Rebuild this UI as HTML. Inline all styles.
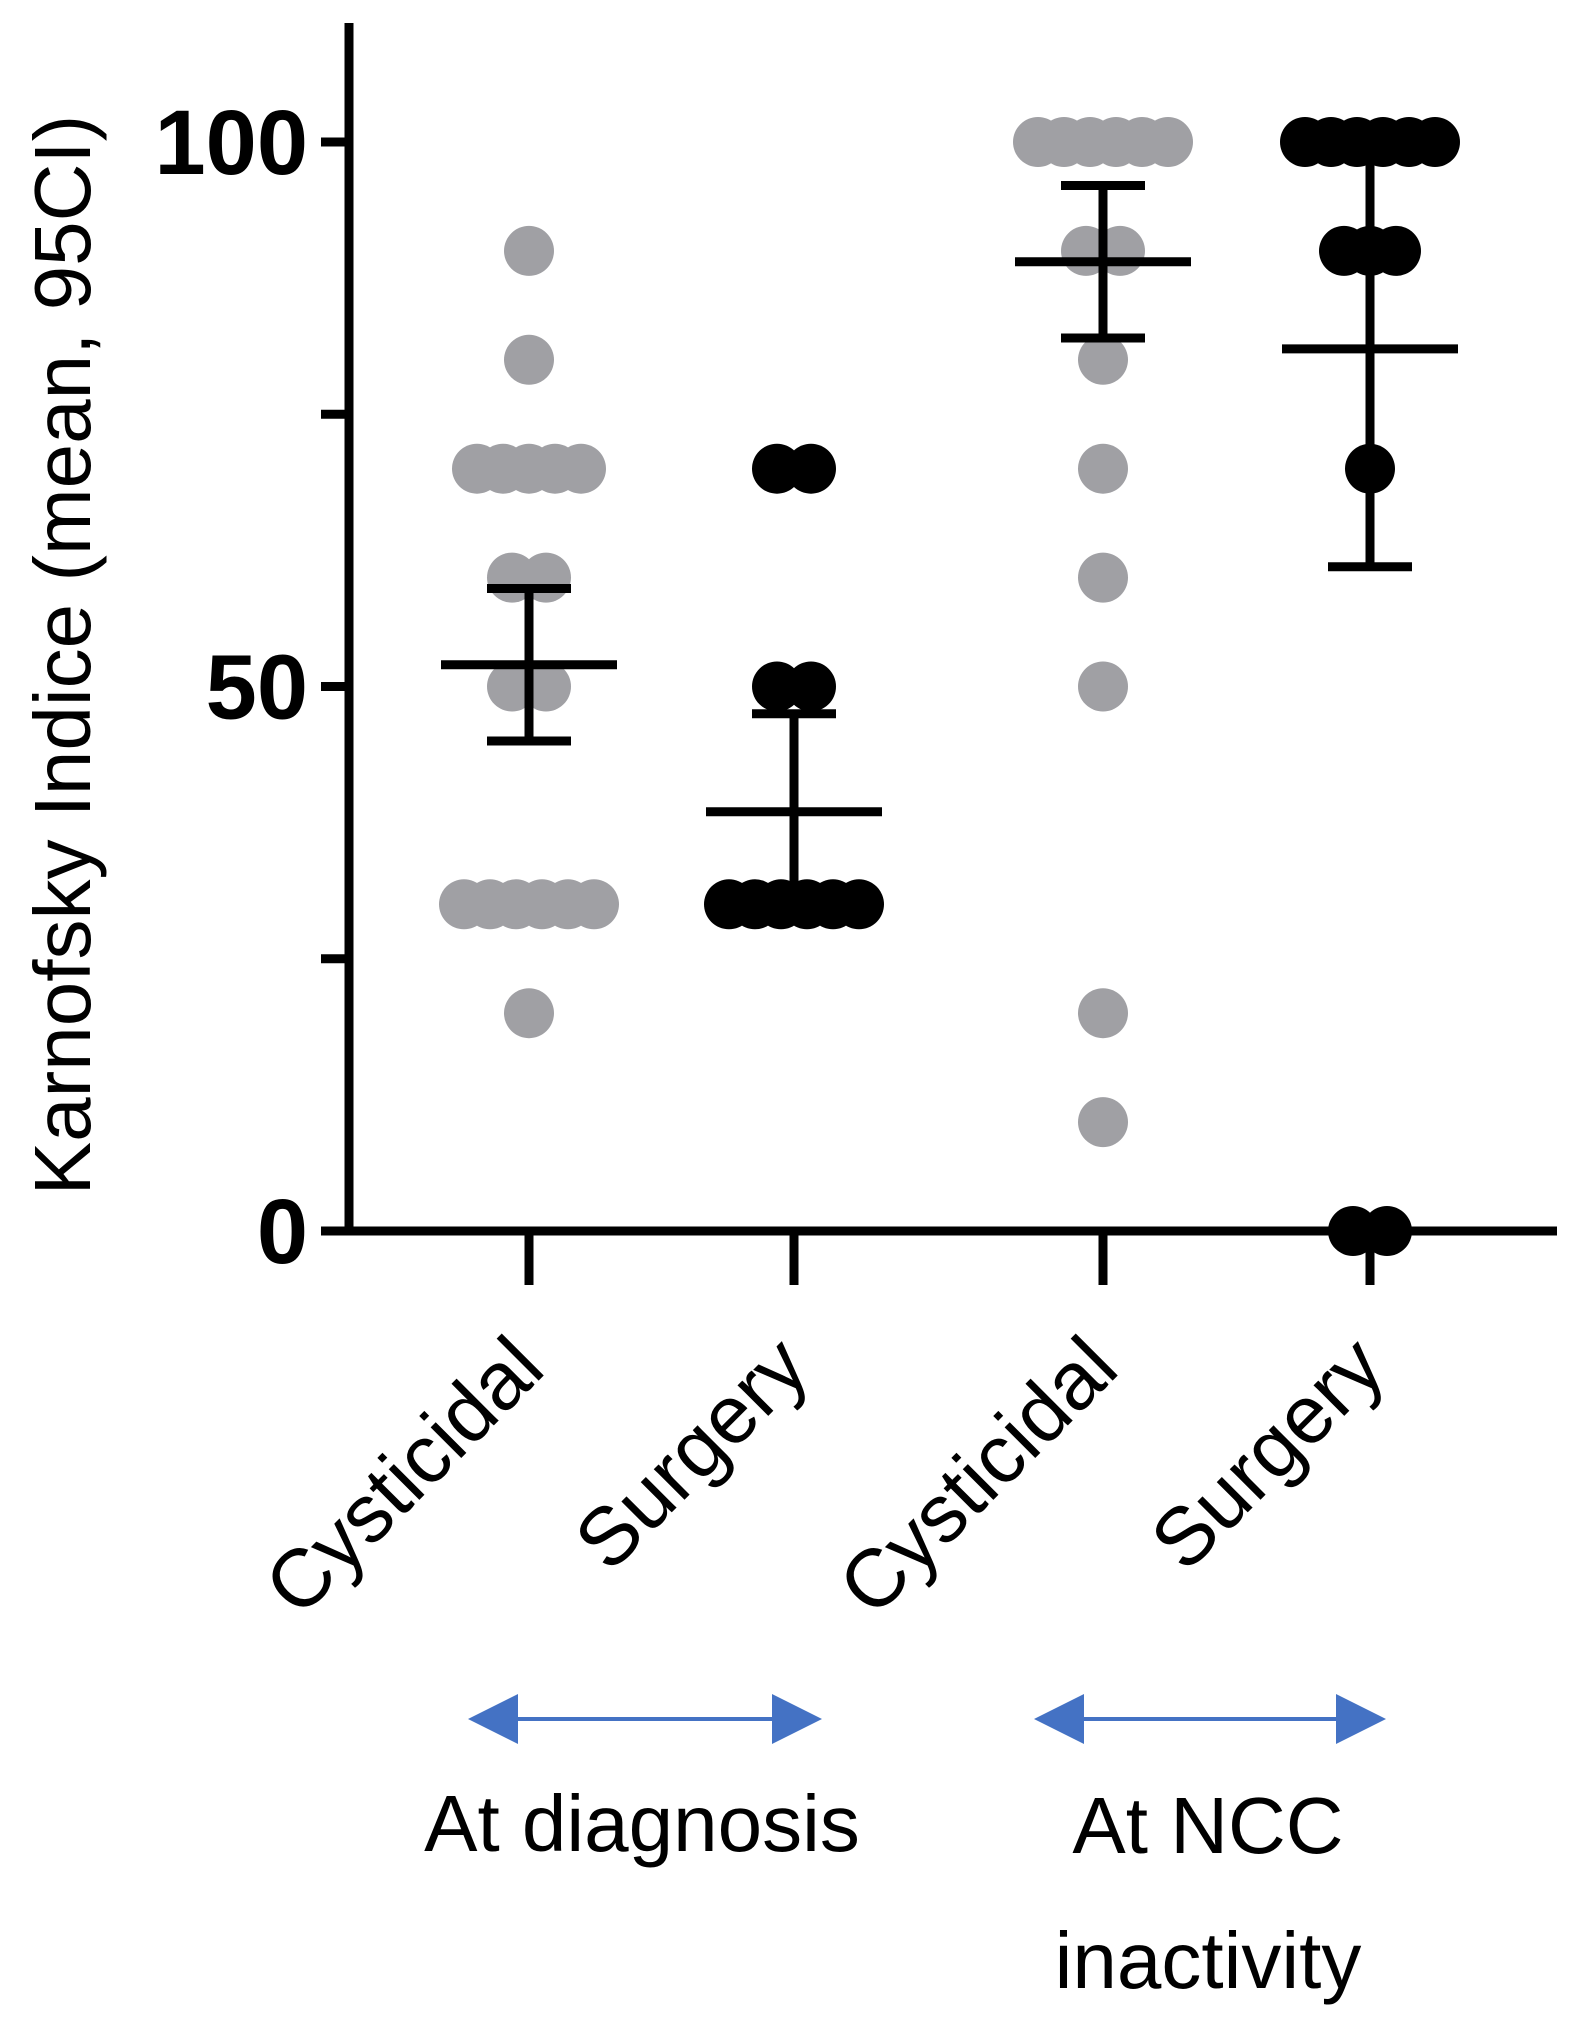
<!DOCTYPE html>
<html><head><meta charset="utf-8"><style>
html,body{margin:0;padding:0;background:#fff;}
svg{display:block;font-family:"Liberation Sans",sans-serif;}
</style></head><body>
<svg id="chart" width="1577" height="2025" viewBox="0 0 1577 2025" xmlns="http://www.w3.org/2000/svg"></svg>
<script>
const categories = ["Cysticidal", "Surgery", "Cysticidal", "Surgery"];
const groupValues = [
  [90, 80, 70, 70, 70, 70, 70, 60, 60, 50, 50, 30, 30, 30, 30, 30, 30, 20],
  [70, 70, 50, 50, 30, 30, 30, 30, 30, 30],
  [100, 100, 100, 100, 100, 100, 90, 90, 80, 70, 60, 50, 20, 10],
  [100, 100, 100, 100, 100, 100, 90, 90, 90, 70, 0, 0]
];
const groupColors = ["#a0a0a4", "#000000", "#a0a0a4", "#000000"];
const means = [52, 38.5, 89, 81];
const ciLow = [45, 30, 82, 61];
const ciHigh = [59, 47.5, 96, 100];
const yTicks = [0, 50, 100];
const yMinorTicks = [25, 75];

const NS = "http://www.w3.org/2000/svg";
const svg = document.getElementById("chart");
const X0 = 349, Y0 = 1231, Y100 = 142;
function yScale(v){ return Y0 + (Y100 - Y0) * v / 100; }
function xScale(i){ return [529, 794, 1103, 1370][i]; }
function mk(tag, attrs, parent){
  const e = document.createElementNS(NS, tag);
  for (const k in attrs) e.setAttribute(k, attrs[k]);
  (parent || svg).appendChild(e);
  return e;
}

groupValues.forEach((vals, gi) => {
  const g = mk("g", {});
  
  
  const counts = {};
  vals.forEach(v => counts[v] = (counts[v] || 0) + 1);
  const seen = {};
  vals.forEach(v => {
    const n = counts[v];
    const k = seen[v] = (seen[v] || 0) + 1;
    const sp = n === 2 ? 34 : 26;
    const off = (k - 1 - (n - 1) / 2) * sp;
    const c = mk("circle", {cx: xScale(gi) + off, cy: yScale(v), r: 25, fill: groupColors[gi]}, g);
    
    
  });
});

means.forEach((m, gi) => {
  const g = mk("g", {stroke: "#000", "stroke-width": 9, fill: "none"});
  
  
  const x = xScale(gi);
  mk("line", {x1: x, x2: x, y1: yScale(ciLow[gi]), y2: yScale(ciHigh[gi])}, g);
  mk("line", {x1: x - 42, x2: x + 42, y1: yScale(ciLow[gi]), y2: yScale(ciLow[gi])}, g);
  mk("line", {x1: x - 42, x2: x + 42, y1: yScale(ciHigh[gi]), y2: yScale(ciHigh[gi])}, g);
  const ml = mk("line", {x1: x - 88, x2: x + 88, y1: yScale(m), y2: yScale(m)}, g);
  
  
});

const ax = mk("g", {stroke: "#000", "stroke-width": 9});


mk("line", {x1: X0, x2: X0, y1: 23, y2: Y0 + 4.5}, ax);
mk("line", {x1: X0 - 4.5, x2: 1557, y1: Y0, y2: Y0}, ax);
yTicks.concat(yMinorTicks).forEach(v => {
  mk("line", {x1: X0 - 28, x2: X0, y1: yScale(v), y2: yScale(v)}, ax);
});
categories.forEach((c, i) => {
  mk("line", {x1: xScale(i), x2: xScale(i), y1: Y0, y2: Y0 + 54}, ax);
});
yTicks.forEach(v => {
  const t = mk("text", {x: 308, y: yScale(v) + 32, "text-anchor": "end", "font-size": 92, "font-weight": "bold"});
  t.textContent = v;
  
  
});
categories.forEach((c, i) => {
  const x = xScale(i) - 22, y = Y0 + 100;
  const t = mk("text", {x: x, y: y, "text-anchor": "end", "font-size": 82, transform: `rotate(-45 ${x} ${y})`, dy: "0.7em"});
  t.textContent = c;
  
  
});
const yt = mk("text", {x: 0, y: 0, "text-anchor": "middle", "font-size": 80, transform: "translate(90 655) rotate(-90)"});
yt.textContent = "Karnofsky Indice (mean, 95CI)";



[[468, 822], [1034, 1386]].forEach((a, i) => {
  const g = mk("g", {fill: "#4472c4", stroke: "#4472c4"});
  
  
  const y = 1719;
  mk("line", {x1: a[0] + 40, x2: a[1] - 40, y1: y, y2: y, "stroke-width": 4}, g);
  mk("polygon", {points: `${a[0]},${y} ${a[0] + 50},${y - 25} ${a[0] + 50},${y + 25}`, stroke: "none"}, g);
  mk("polygon", {points: `${a[1]},${y} ${a[1] - 50},${y - 25} ${a[1] - 50},${y + 25}`, stroke: "none"}, g);
});
[["At diagnosis", 642, 1851], ["At NCC", 1208, 1853], ["inactivity", 1208, 1988]].forEach(d => {
  const t = mk("text", {x: d[1], y: d[2], "text-anchor": "middle", "font-size": 80});
  t.textContent = d[0];
  
  
});
</script>
</body></html>
